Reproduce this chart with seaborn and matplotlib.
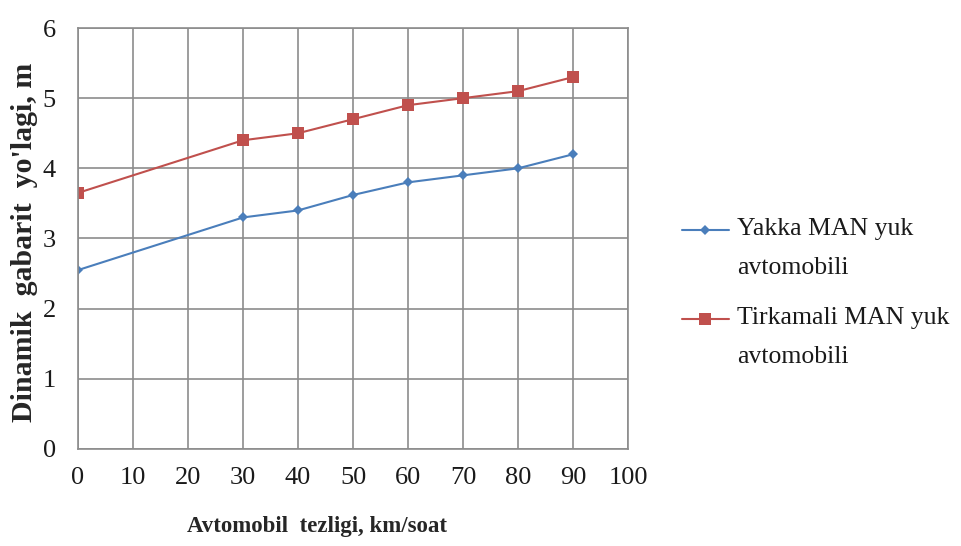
import matplotlib
matplotlib.use("Agg")
import matplotlib.pyplot as plt
import seaborn as sns
import pandas as pd
from matplotlib.lines import Line2D
from matplotlib.legend_handler import HandlerLine2D

speed = [0, 30, 40, 50, 60, 70, 80, 90]
yakka = [2.55, 3.3, 3.4, 3.62, 3.8, 3.9, 4.0, 4.2]
tirkamali = [3.65, 4.4, 4.5, 4.7, 4.9, 5.0, 5.1, 5.3]
series_names = ["Yakka MAN yuk\navtomobili", "Tirkamali MAN yuk\navtomobili"]
x_ticks = [0, 10, 20, 30, 40, 50, 60, 70, 80, 90, 100]
y_ticks = [0, 1, 2, 3, 4, 5, 6]

df = pd.DataFrame({
    "speed": speed * 2,
    "value": yakka + tirkamali,
    "series": [series_names[0]] * len(speed) + [series_names[1]] * len(speed),
})


class TopHandler(HandlerLine2D):
    """Place the legend handle level with the first line of a 2-line label."""
    def __init__(self, shift, **kw):
        super().__init__(**kw)
        self.shift = shift

    def create_artists(self, legend, orig_handle, xdescent, ydescent, width,
                       height, fontsize, trans):
        return super().create_artists(legend, orig_handle, xdescent,
                                      ydescent - 2 * self.shift, width, height,
                                      fontsize, trans)


sns.set_theme(style="white")
plt.rcParams["font.family"] = ["Liberation Serif", "DejaVu Serif"]

fig = plt.figure(figsize=(9.62, 5.46), dpi=100)
ax = fig.add_axes([0.0811, 0.1777, 0.5717, 0.771])

sns.lineplot(data=df, x="speed", y="value", hue="series", style="series",
             palette=["#4a7ebb", "#c0504d"], markers=["D", "s"], dashes=False,
             markersize=6, linewidth=1.5, markeredgewidth=0, ax=ax)
for ln in ax.lines:
    if ln.get_marker() == "s":
        ln.set_markersize(8.5)
    elif ln.get_marker() == "D":
        ln.set_markersize(5)

ax.set_xlim(0, 100)
ax.set_ylim(0, 6)
ax.set_xticks(x_ticks)
ax.set_yticks(y_ticks)
ax.grid(True, color="#8c8c8c", linewidth=1.2)
ax.set_axisbelow(True)
for s in ax.spines.values():
    s.set_color("#8c8c8c")
    s.set_linewidth(1.2)
ax.tick_params(axis="both", which="both", direction="out", length=7, width=1.2,
               color="#8c8c8c", labelsize=19, labelcolor="#1a1a1a")
ax.tick_params(axis="x", pad=6)
ax.tick_params(axis="y", pad=9)
ax.set_xlabel("Avtomobil  tezligi, km/soat", fontsize=16.5, fontweight="bold")
ax.xaxis.set_label_coords(0.435, -0.16)
ax.set_ylabel("Dinamik  gabarit  yo'lagi, m", fontsize=21.5, fontweight="bold")
ax.yaxis.set_label_coords(-0.073, 0.49)

handles, labels = ax.get_legend_handles_labels()
leg = ax.legend(handles, labels, loc="center left", bbox_to_anchor=(1.056, 0.37),
                frameon=False, fontsize=18.5, handlelength=1.83, labelspacing=1.1,
                handletextpad=0.3, handler_map={Line2D: TopHandler(13)})
for t in leg.get_texts():
    t.set_color("#1a1a1a")
    t.set_linespacing(2.0)

fig.savefig("out.png", dpi=100)
